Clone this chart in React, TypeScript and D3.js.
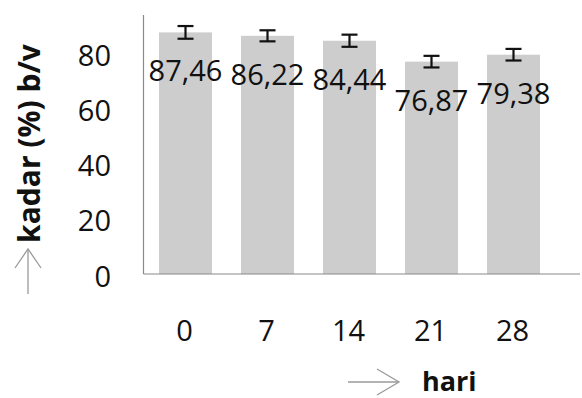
import React from "react";
import * as d3 from "d3";

const categories = ["0", "7", "14", "21", "28"];
const values = [87.46, 86.22, 84.44, 76.87, 79.38];
const errors = [2.3, 2.0, 2.2, 2.1, 2.1];
const valueLabels = ["87,46", "86,22", "84,44", "76,87", "79,38"];
const yTicks = [0, 20, 40, 60, 80];
const yLabel = "kadar (%) b/v";
const xLabel = "hari";

const W = 582;
const H = 398;

export default function App() {
  const x = d3
    .scaleBand<string>()
    .domain(categories)
    .range([144.5, 554.5])
    .paddingInner(0.354)
    .paddingOuter(0.177);
  const y = d3.scaleLinear().domain([0, 80]).range([274, 53]);
  const font = "'Open Sans', sans-serif";
  const axisColor = "#8a8a8a";
  const capW = 16;

  return (
    <svg
      width={W}
      height={H}
      style={{ position: "absolute", left: 0, top: 0, background: "#fff" }}
    >
      {/* bars */}
      {categories.map((c, i) => (
        <rect
          key={"b" + c}
          x={x(c)}
          y={y(values[i])}
          width={x.bandwidth()}
          height={y(0) - y(values[i])}
          fill="#cdcdcd"
        />
      ))}
      {/* axes */}
      <line x1={143.5} x2={143.5} y1={15} y2={y(0)} stroke={axisColor} strokeWidth={1.2} />
      <line x1={143.5} x2={580} y1={y(0)} y2={y(0)} stroke={axisColor} strokeWidth={1.2} />
      {/* error bars */}
      {categories.map((c, i) => {
        const cx = (x(c) as number) + x.bandwidth() / 2;
        const yt = y(values[i] + errors[i]);
        const yb = y(values[i] - errors[i]);
        return (
          <g key={"e" + c} stroke="#111" strokeWidth={2.2}>
            <line x1={cx} x2={cx} y1={yt} y2={yb} />
            <line x1={cx - capW / 2} x2={cx + capW / 2} y1={yt} y2={yt} />
            <line x1={cx - capW / 2} x2={cx + capW / 2} y1={yb} y2={yb} />
          </g>
        );
      })}
      {/* value labels */}
      {categories.map((c, i) => (
        <text
          key={"v" + c}
          x={(x(c) as number) + x.bandwidth() / 2}
          y={y(values[i]) + 49}
          textAnchor="middle"
          fontFamily={font}
          fontSize={29}
          fill="#111"
        >
          {valueLabels[i]}
        </text>
      ))}
      {/* y ticks */}
      {yTicks.map((t) => (
        <text
          key={"y" + t}
          x={111}
          y={y(t) + 12.5}
          textAnchor="end"
          fontFamily={font}
          fontSize={29}
          fill="#111"
        >
          {t}
        </text>
      ))}
      {/* x ticks */}
      {categories.map((c) => (
        <text
          key={"x" + c}
          x={(x(c) as number) + x.bandwidth() / 2 - 1}
          y={341}
          textAnchor="middle"
          fontFamily={font}
          fontSize={29}
          fill="#111"
        >
          {c}
        </text>
      ))}
      {/* y label */}
      <text
        transform="translate(40,143.5) rotate(-90)"
        textAnchor="middle"
        fontFamily={font}
        fontWeight="bold"
        fontSize={30}
        fill="#111"
      >
        {yLabel}
      </text>
      {/* y arrow */}
      <g stroke="#9a9a9a" strokeWidth={1.3} fill="none">
        <line x1={28} x2={28} y1={249} y2={294} />
        <polyline points="15,268 28,249 41,268" />
      </g>
      {/* x arrow */}
      <g stroke="#9a9a9a" strokeWidth={1.3} fill="none">
        <line x1={348} x2={399} y1={382} y2={382} />
        <polyline points="377,369 399,382 377,395" />
      </g>
      <text
        x={422}
        y={391}
        fontFamily={font}
        fontWeight="bold"
        fontSize={27}
        fill="#111"
      >
        {xLabel}
      </text>
    </svg>
  );
}
